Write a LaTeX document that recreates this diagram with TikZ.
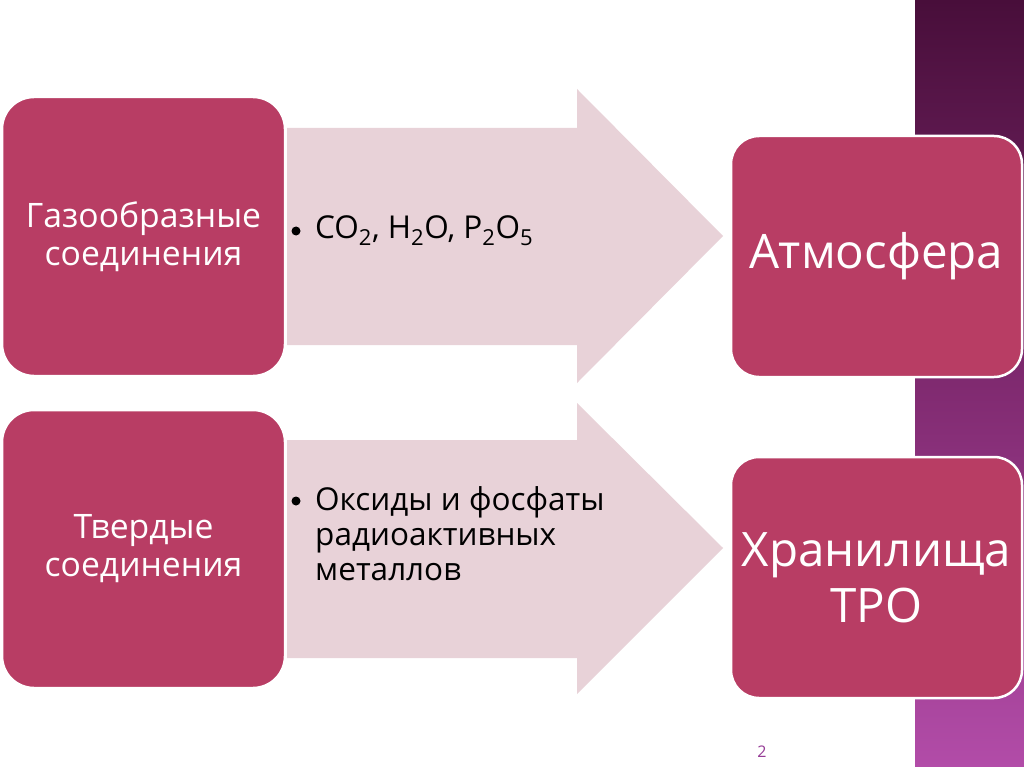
\documentclass[tikz,border=0pt]{standalone}
\usepackage{fontspec}
\setmainfont{Open Sans}
\definecolor{boxc}{RGB}{184,61,100}
\definecolor{arrc}{RGB}{232,210,216}
\definecolor{strtop}{RGB}{72,14,58}
\definecolor{strmid}{RGB}{128,42,112}
\definecolor{strbot}{RGB}{178,76,168}
\definecolor{numc}{RGB}{150,60,150}
\begin{document}
\begin{tikzpicture}[x=1pt,y=-1pt,
  lbox/.style={fill=boxc, draw=white, line width=2.5pt, rounded corners=32pt,
    minimum width=283pt, minimum height=279pt, text=white, align=center,
    font=\fontsize{33.7}{38}\selectfont, inner sep=0pt},
  rbox/.style={fill=boxc, draw=white, line width=2.5pt, rounded corners=28pt,
    minimum width=291pt, minimum height=241pt, text=white, align=center,
    font=\fontsize{47.5}{56}\selectfont, inner sep=0pt},
  arrowbody/.style={fill=arrc},
  bullettext/.style={anchor=base west, text=black, align=left, inner sep=0pt,
    font=\fontsize{31.5}{35}\selectfont},
  bulletdot/.style={circle, fill=black, inner sep=0pt, minimum size=9pt}
]
\useasboundingbox (0,0) rectangle (1024,767);
\fill[white] (0,0) rectangle (1024,767);
% decorative strip
\shade[top color=strtop, bottom color=strbot, middle color=strmid] (915,0) rectangle (1024,767);
% arrows
\fill[arrowbody] (287,128) -- (577,128) -- (577,89) -- (723,236) -- (577,383) -- (577,345) -- (287,345) -- cycle;
\fill[arrowbody] (287,440) -- (577,440) -- (577,403) -- (723,548) -- (577,694) -- (577,658) -- (287,658) -- cycle;
% boxes
\node[lbox] (gas) at (143.5,236.5) {Газообразные\\соединения};
\node[lbox, minimum height=278pt] (solid) at (143.5,549) {Твердые\\соединения};
\node[rbox] (atm) at (876.5,256.5) {Атмосфера};
\node[rbox] (stor) at (876.5,577.5) {Хранилища\\ТРО};
% bullet texts
\node[bulletdot] (d1) at (296,231) {};
\node[bullettext] (b1) at (315,238) {CO\textsubscript{2}, H\textsubscript{2}O, P\textsubscript{2}O\textsubscript{5}};
\node[bulletdot] (d2) at (296,501) {};
\node[bullettext] (b2) at (315,510) {Оксиды и фосфаты};
\node[bullettext] (b3) at (315,545) {радиоактивных};
\node[bullettext] (b4) at (315,580) {металлов};
% page number
\node[text=numc, font=\fontsize{16}{18}\selectfont] (pnum) at (762,752) {2};
\end{tikzpicture}
\end{document}
